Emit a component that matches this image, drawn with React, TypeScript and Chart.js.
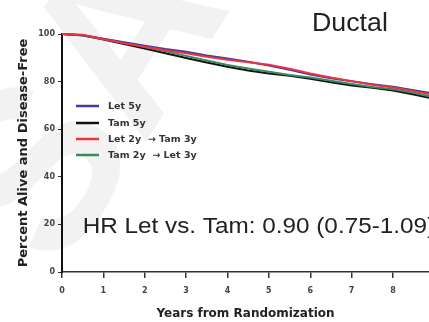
import React, { useEffect, useRef } from "react";
import { Chart, registerables } from "chart.js";

Chart.register(...registerables);

const years = [0, 0.5, 1, 1.5, 2, 2.5, 3, 3.5, 4, 4.5, 5, 5.5, 6, 6.5, 7, 7.5, 8, 8.5, 9];
const letFive = [100, 99.5, 98.0, 96.5, 95.1, 93.7, 92.5, 91.0, 89.7, 88.3, 86.8, 85.0, 83.0, 81.4, 80.1, 78.9, 77.8, 76.4, 74.9];
const tamFive = [100, 99.5, 97.7, 95.8, 93.9, 91.9, 89.9, 88.0, 86.2, 84.7, 83.4, 82.5, 81.2, 79.7, 78.4, 77.4, 76.3, 74.6, 72.7];
const letTam = [100, 99.7, 97.9, 96.1, 94.6, 93.2, 91.9, 90.4, 89.2, 88.1, 87.1, 85.4, 83.4, 81.7, 80.2, 78.7, 77.5, 76.0, 74.4];
const tamLet = [100, 99.4, 97.9, 96.3, 94.5, 92.7, 90.8, 88.9, 87.0, 85.5, 84.1, 82.8, 81.7, 80.4, 79.0, 77.7, 76.8, 75.3, 73.4];

const seriesLabels = ["Let 5y", "Tam 5y", "Let 2y  \u2192 Tam 3y", "Tam 2y  \u2192 Let 3y"];
const seriesColors = ["#4538a8", "#111111", "#ec3440", "#3a8a60"];
const seriesOrder = [2, 3, 1, 2];
const xTicks = [0, 1, 2, 3, 4, 5, 6, 7, 8];
const yTicks = [0, 20, 40, 60, 80, 100];
const titleText = "Ductal";
const hrText = "HR Let vs. Tam: 0.90 (0.75-1.09)";
const xTitle = "Years from Randomization";
const yTitle = "Percent Alive and Disease-Free";

const overlayPlugin = {
  id: "overlay",
  beforeDraw(chart: any) {
    const ctx = chart.ctx;
    ctx.save();
    ctx.fillStyle = "#ffffff";
    ctx.fillRect(0, 0, chart.width, chart.height);
    ctx.translate(60, 275);
    ctx.rotate(-1.0);
    ctx.font = "bold 230px 'Liberation Sans', Arial, sans-serif";
    ctx.fillStyle = "#f2f2f2";
    ctx.textBaseline = "alphabetic";
    ctx.fillText("SABCS", 0, 0);
    ctx.restore();
  },
  afterDraw(chart: any) {
    const ctx = chart.ctx;
    const xs = chart.scales.x;
    const ys = chart.scales.y;
    ctx.save();
    ctx.fillStyle = "#222";
    ctx.textBaseline = "alphabetic";
    ctx.textAlign = "left";
    ctx.save();
    ctx.translate(312, 31);
    ctx.scale(1.07, 1);
    ctx.font = "25px 'Liberation Sans', Arial, sans-serif";
    ctx.fillText(titleText, 0, 0);
    ctx.restore();
    ctx.save();
    ctx.translate(xs.getPixelForValue(0.5), ys.getPixelForValue(16.3));
    ctx.scale(1.13, 1);
    ctx.font = "21.5px 'Liberation Sans', Arial, sans-serif";
    ctx.fillText(hrText, 0, 0);
    ctx.restore();
    const rows = [106, 123, 139, 155];
    chart.data.datasets.forEach((ds: any, i: number) => {
      const y = rows[i];
      ctx.strokeStyle = ds.borderColor;
      ctx.lineWidth = 2.5;
      ctx.beginPath();
      ctx.moveTo(76, y);
      ctx.lineTo(99, y);
      ctx.stroke();
      ctx.fillStyle = "#333";
      ctx.font = "bold 9.5px 'DejaVu Sans', sans-serif";
      ctx.textBaseline = "middle";
      ctx.fillText(ds.label, 108, y + 1);
    });
    ctx.restore();
  },
};

export default function App() {
  const ref = useRef<HTMLCanvasElement | null>(null);
  useEffect(() => {
    if (!ref.current) return;
    const mk = (vals: number[]) => years.map((x, i) => ({ x, y: vals[i] }));
    const all = [letFive, tamFive, letTam, tamLet];
    const chart = new Chart(ref.current, {
      type: "line",
      data: {
        datasets: all.map((vals, i) => ({
          label: seriesLabels[i],
          data: mk(vals),
          borderColor: seriesColors[i],
          backgroundColor: seriesColors[i],
          borderWidth: 2,
          pointRadius: 0,
          tension: 0,
          order: seriesOrder[i],
          clip: 4,
        })),
      },
      options: {
        animation: false,
        responsive: false,
        maintainAspectRatio: false,
        layout: { padding: { top: 34, left: 0, right: 0, bottom: 0 } },
        plugins: {
          legend: { display: false },
          tooltip: { enabled: false },
          title: { display: false },
        },
        scales: {
          x: {
            type: "linear",
            min: 0,
            max: 8.87,
            afterFit: (s: any) => {
              s.height = 50;
            },
            afterBuildTicks: (s: any) => {
              s.ticks = xTicks.map((v) => ({ value: v }));
            },
            ticks: {
              includeBounds: false,
              padding: 8,
              color: "#444",
              font: { family: "'DejaVu Sans', sans-serif", size: 8, weight: "bold" },
              maxRotation: 0,
              autoSkip: false,
            },
            grid: { drawOnChartArea: false, drawTicks: true, tickLength: 6, color: "#333", lineWidth: 1.5 },
            border: { display: true, color: "#333", width: 1.5 },
            title: {
              display: true,
              text: xTitle,
              color: "#222",
              font: { family: "'DejaVu Sans', sans-serif", size: 12, weight: "bold" },
              padding: { top: 0, bottom: 1 },
            },
          },
          y: {
            type: "linear",
            min: 0,
            max: 100,
            afterFit: (s: any) => {
              s.width = 62;
            },
            afterBuildTicks: (s: any) => {
              s.ticks = yTicks.map((v) => ({ value: v }));
            },
            ticks: {
              padding: 3,
              color: "#444",
              font: { family: "'DejaVu Sans', sans-serif", size: 8, weight: "bold" },
            },
            grid: { drawOnChartArea: false, drawTicks: true, tickLength: 4, color: "#333", lineWidth: 1 },
            border: { display: true, color: "#111", width: 2 },
            title: {
              display: true,
              text: yTitle,
              color: "#222",
              font: { family: "'DejaVu Sans', sans-serif", size: 13, weight: "bold" },
              padding: { top: 16, bottom: 0 },
            },
          },
        },
      },
      plugins: [overlayPlugin],
    } as any);
    return () => chart.destroy();
  }, []);
  return (
    <div style={{ position: "fixed", left: 0, top: 0, width: 429, height: 322, overflow: "hidden", background: "#fff" }}>
      <canvas ref={ref} width={429} height={322} style={{ display: "block" }} />
    </div>
  );
}
